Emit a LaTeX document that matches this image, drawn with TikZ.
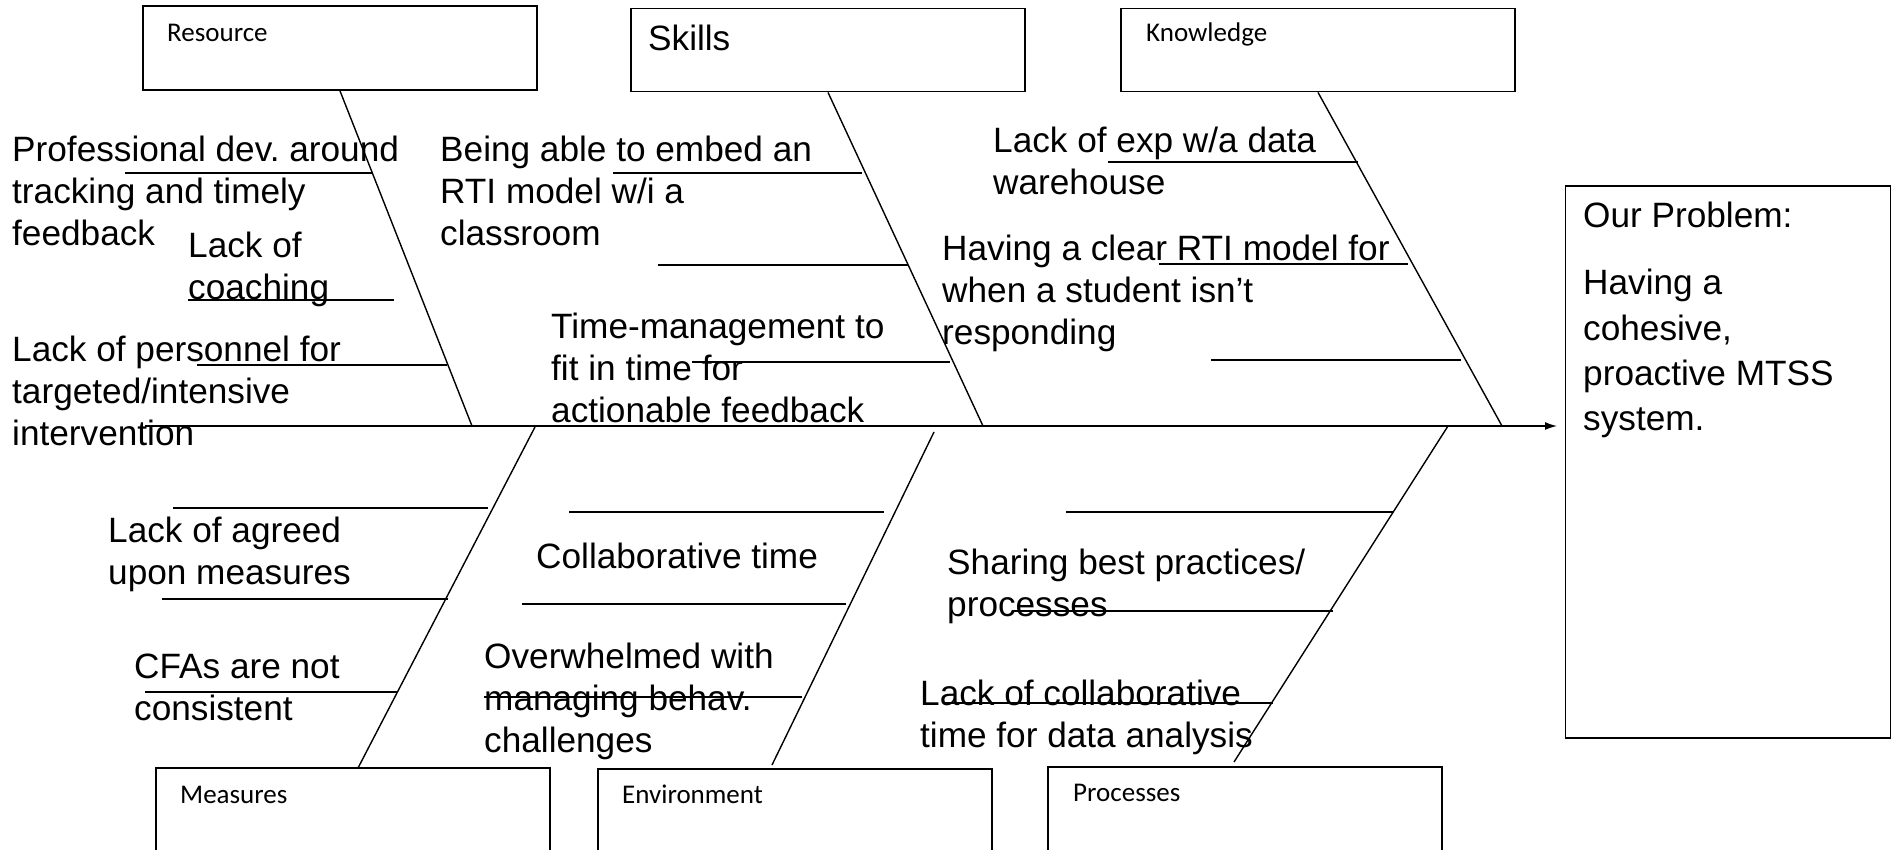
\documentclass[tikz,border=0pt]{standalone}
\usepackage{fontspec}
\setmainfont{Liberation Sans}
\newfontfamily\calfont{Carlito}
\usetikzlibrary{arrows.meta}
\frenchspacing
\begin{document}
\begin{tikzpicture}[x=1pt,y=-1pt,
  catbox/.style={draw, line width=1.8pt, minimum width=394pt, inner sep=0pt},
  bone/.style={line width=1.4pt},
  big/.style={font=\fontsize{35.2}{42}\selectfont, align=left, anchor=north west, inner sep=0pt},
  lab/.style={font=\calfont\fontsize{27}{32}\selectfont, anchor=base west, inner sep=0pt},
  biglab/.style={font=\fontsize{35.2}{42}\selectfont, anchor=base west, inner sep=0pt}]
\useasboundingbox (0,0) rectangle (1899,850);
\clip (0,0) rectangle (1899,850);
% category boxes
\node[catbox, minimum height=84pt] (res) at (340,48) {};
\node[catbox, minimum height=83pt] (ski) at (828,50) {};
\node[catbox, minimum height=83pt] (kno) at (1318,50) {};
\node[catbox, minimum height=100pt] (mea) at (353,818) {};
\node[catbox, minimum height=100pt] (env) at (795,819) {};
\node[catbox, minimum height=100pt] (pro) at (1245,817) {};
\node[draw, line width=1.8pt, minimum width=325pt, minimum height=552pt, inner sep=0pt] (prob) at (1728,462) {};
% category labels
\node[lab] (lres) at (167,42) {Resource};
\node[biglab] (lski) at (648,51) {Skills};
\node[lab] (lkno) at (1146,42) {Knowledge};
\node[lab] (lmea) at (180,803) {Measures};
\node[lab] (lenv) at (622,803) {Environment};
\node[lab] (lpro) at (1073,801) {Processes};
% spine
\coordinate (spA) at (145,426);
\coordinate (spB) at (1557,426);
\draw[bone, -{Latex[length=12pt,width=8pt]}] (spA) -- (spB);
% bone ends on spine / bottom
\coordinate (sR) at (472,426);
\coordinate (sS) at (983,426);
\coordinate (sK) at (1502,426);
\coordinate (sM) at (535,427);
\coordinate (sE) at (934,432);
\coordinate (sP) at (1448,426);
\coordinate (eM) at (358,768);
\coordinate (eE) at (772,765);
\coordinate (eP) at (1234,762);
\draw[bone] (res.south) -- (sR);
\draw[bone] (ski.south) -- (sS);
\draw[bone] (kno.south) -- (sK);
\draw[bone] (sM) -- (eM);
\draw[bone] (sE) -- (eE);
\draw[bone] (sP) -- (eP);
% ribs
\coordinate (a1) at (125,173); \coordinate (b1) at (372,173);
\coordinate (a2) at (188,300); \coordinate (b2) at (394,300);
\coordinate (a3) at (197,365); \coordinate (b3) at (447,365);
\coordinate (a4) at (613,173); \coordinate (b4) at (862,173);
\coordinate (a5) at (658,265); \coordinate (b5) at (908,265);
\coordinate (a6) at (692,362); \coordinate (b6) at (950,362);
\coordinate (a7) at (1108,162); \coordinate (b7) at (1358,162);
\coordinate (a8) at (1159,264); \coordinate (b8) at (1408,264);
\coordinate (a9) at (1211,360); \coordinate (b9) at (1461,360);
\coordinate (a10) at (173,508); \coordinate (b10) at (488,508);
\coordinate (a11) at (162,599); \coordinate (b11) at (448,599);
\coordinate (a12) at (145,692); \coordinate (b12) at (398,692);
\coordinate (a13) at (569,512); \coordinate (b13) at (884,512);
\coordinate (a14) at (522,604); \coordinate (b14) at (846,604);
\coordinate (a15) at (484,697); \coordinate (b15) at (802,697);
\coordinate (a16) at (1066,512); \coordinate (b16) at (1393,512);
\coordinate (a17) at (1012,611); \coordinate (b17) at (1333,611);
\coordinate (a18) at (945,703); \coordinate (b18) at (1273,703);
\foreach \i in {1,...,18} {\draw[bone] (a\i) -- (b\i);}
% cause texts
\node[big] (t1) at (12,136) {Professional dev. around\\tracking and timely\\feedback};
\node[big] (t2) at (188,232) {Lack of\\coaching};
\node[big] (t3) at (12,336) {Lack of personnel for\\targeted/intensive\\intervention};
\node[big] (t4) at (440,136) {Being able to embed an\\RTI model w/i a\\classroom};
\node[big] (t5) at (551,313) {Time-management to\\fit in time for\\actionable feedback};
\node[big] (t6) at (993,127) {Lack of exp w/a data\\warehouse};
\node[big] (t7) at (942,235) {Having a clear RTI model for\\when a student isn’t\\responding};
\node[big] (t9) at (108,517) {Lack of agreed\\upon measures};
\node[big] (t10) at (134,654) {CFAs are not\\consistent};
\node[big] (t11) at (536,543) {Collaborative time};
\node[big] (t12) at (484,643) {Overwhelmed with\\managing behav.\\challenges};
\node[big] (t13) at (947,549) {Sharing best practices/\\processes};
\node[big] (t14) at (920,680) {Lack of collaborative\\time for data analysis};
% problem text
\node[big, font=\fontsize{35.2}{45.4}\selectfont] (t8) at (1583,202) {Our Problem:\\[21.6pt]Having a\\cohesive,\\proactive MTSS\\system.};
\end{tikzpicture}
\end{document}
